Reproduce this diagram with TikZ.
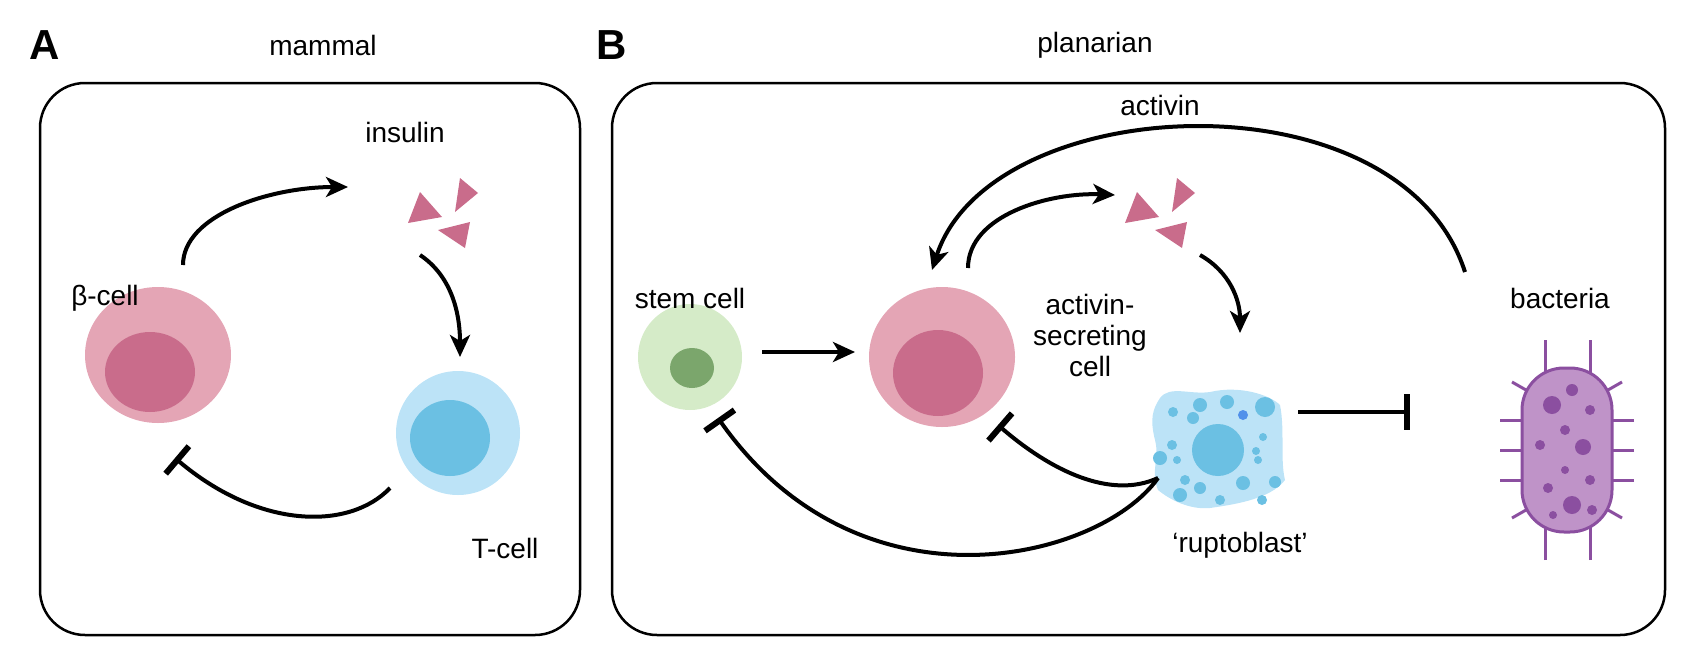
\documentclass[tikz,border=0pt]{standalone}
\usepackage{fontspec}
\setmainfont{Liberation Sans}
\usetikzlibrary{arrows.meta}
\begin{document}
\begin{tikzpicture}[x=1pt,y=-1pt,
  lbl/.style={font=\fontsize{28}{33}\selectfont, align=center},
  act/.style={line width=4pt,-{Stealth[length=22pt,width=20pt,inset=6pt]}},
  inh/.style={line width=4pt,-{Bar[width=36pt,line width=6pt]}},
  box/.style={line width=2.5pt,rounded corners=45pt},
  tri/.style={fill=pinkD}]
\definecolor{pinkL}{HTML}{E4A5B5}\definecolor{pinkD}{HTML}{C96C8B}
\definecolor{blueL}{HTML}{BCE3F7}\definecolor{blueD}{HTML}{6BC0E3}
\definecolor{greenL}{HTML}{D5EBC8}\definecolor{greenD}{HTML}{7BA66C}
\definecolor{purL}{HTML}{BF93C8}\definecolor{purD}{HTML}{8B4FA0}
\useasboundingbox (0,0) rectangle (1702,651);
\node[font=\fontsize{42}{46}\selectfont\bfseries] (A) at (45,45) {A};
\node[font=\fontsize{42}{46}\selectfont\bfseries] (B) at (612,45) {B};
\node[lbl] (tA) at (323,45) {mammal};
\node[lbl] (tB) at (1095,45) {planarian};
\draw[box] (40,83) rectangle (580,635);
\draw[box] (612,83) rectangle (1665,635);
% panel A
\fill[pinkL] (158,355) ellipse [x radius=73,y radius=68];
\fill[pinkD] (150,372) ellipse [x radius=45,y radius=40];
\node[lbl] (bl) at (105,298) {β-cell};
\fill[blueL] (458,433) ellipse [x radius=62,y radius=62];
\fill[blueD] (450,438) ellipse [x radius=40,y radius=38];
\node[lbl] (tl) at (505,548) {T-cell};
\fill[tri] (420,192)--(408,223)--(442,217)--cycle;
\fill[tri] (460,178)--(455,212)--(478,193)--cycle;
\fill[tri] (438,230)--(470,222)--(465,248)--cycle;
\node[lbl] (ins) at (405,132) {insulin};
\coordinate (a1) at (183,265); \coordinate (a2) at (348,187);
\draw[act] (a1) .. controls (183,215) and (270,187) .. (a2);
\coordinate (a3) at (420,255); \coordinate (a4) at (460,357);
\draw[act] (a3) .. controls (450,275) and (460,310) .. (a4);
\coordinate (a5) at (390,488); \coordinate (a6) at (175,458);
\draw[inh] (a5) .. controls (350,530) and (260,530) .. (a6);
% panel B
\fill[greenL] (690,357) ellipse [x radius=52,y radius=53];
\fill[greenD] (692,368) ellipse [x radius=22,y radius=20];
\node[lbl] (sl) at (690,298) {stem cell};
\fill[pinkL] (942,357) ellipse [x radius=73,y radius=70];
\fill[pinkD] (938,373) ellipse [x radius=45,y radius=43];
\node[lbl] (acl) at (1090,335) {activin-\\[-2pt]secreting\\[-2pt]cell};
\begin{scope}[shift={(717,0)}]
\fill[tri] (420,192)--(408,223)--(442,217)--cycle;
\fill[tri] (460,178)--(455,212)--(478,193)--cycle;
\fill[tri] (438,230)--(470,222)--(465,248)--cycle;
\end{scope}
\node[lbl] (actl) at (1160,105) {activin};
\coordinate (b1) at (762,352); \coordinate (b2) at (855,352);
\draw[act] (b1) -- (b2);
\coordinate (b3) at (968,268); \coordinate (b4) at (1115,195);
\draw[act] (b3) .. controls (968,215) and (1050,192) .. (b4);
\coordinate (b5) at (1200,255); \coordinate (b6) at (1240,333);
\draw[act] (b5) .. controls (1230,272) and (1240,300) .. (b6);
\coordinate (b7) at (1465,272); \coordinate (b8) at (932,270);
\draw[act] (b7) .. controls (1400,70) and (990,90) .. (b8);
% ruptoblast
\fill[blueL] (1160,398) .. controls (1170,385) and (1190,395) .. (1210,392)
  .. controls (1240,385) and (1270,395) .. (1280,405)
  .. controls (1285,430) and (1280,460) .. (1285,480)
  .. controls (1270,500) and (1230,505) .. (1210,508)
  .. controls (1190,510) and (1170,500) .. (1158,490)
  .. controls (1150,470) and (1160,460) .. (1155,440)
  .. controls (1150,420) and (1152,410) .. (1160,398)--cycle;
\fill[blueD] (1218,450) circle (26);
\foreach \x/\y/\r in {1200/405/7, 1227/402/7, 1265/407/10, 1173/412/5, 1193/418/6, 1263/437/4, 1172/445/5, 1160/458/7, 1177/460/4, 1256/451/4, 1258/460/4, 1185/480/5, 1200/488/6, 1243/483/7, 1275/482/6, 1180/495/7, 1220/500/5, 1262/500/5}
  \fill[blueD] (\x,\y) circle (\r);
\fill[blue!25!blueD] (1243,415) circle (5);
\node[lbl] (rl) at (1240,545) {‘ruptoblast’};
\coordinate (r0) at (1298,412); \coordinate (r1) at (1410,412);
\draw[inh] (r0) -- (r1);
% bacteria
\foreach \px/\py/\qx/\qy in {1545/340/1545/375, 1590/340/1590/375, 1512/382/1540/398, 1622/382/1594/398, 1500/420/1522/420, 1500/450/1522/450, 1500/480/1522/480, 1634/420/1612/420, 1634/450/1612/450, 1634/480/1612/480, 1512/518/1540/502, 1622/518/1594/502, 1545/560/1545/525, 1590/560/1590/525}
  \draw[purD,line width=3pt] (\px,\py) -- (\qx,\qy);
\draw[purD,fill=purL,line width=3pt,rounded corners=42pt] (1522,368) rectangle (1612,532);
\foreach \x/\y/\r in {1572/390/6, 1552/405/9, 1590/410/5, 1565/430/5, 1540/445/5, 1583/447/8, 1565/470/4, 1548/488/5, 1590/480/5, 1572/505/9, 1553/515/4, 1592/510/5}
  \fill[purD] (\x,\y) circle (\r);
\node[lbl] (bal) at (1560,298) {bacteria};
% inhibitions from ruptoblast
\coordinate (c0) at (1158,478); \coordinate (c1) at (998,425);
\draw[inh] (c0) .. controls (1110,500) and (1050,470) .. (c1);
\coordinate (c3) at (718,418);
\draw[inh] (c0) .. controls (1100,560) and (860,620) .. (c3);
\end{tikzpicture}
\end{document}
